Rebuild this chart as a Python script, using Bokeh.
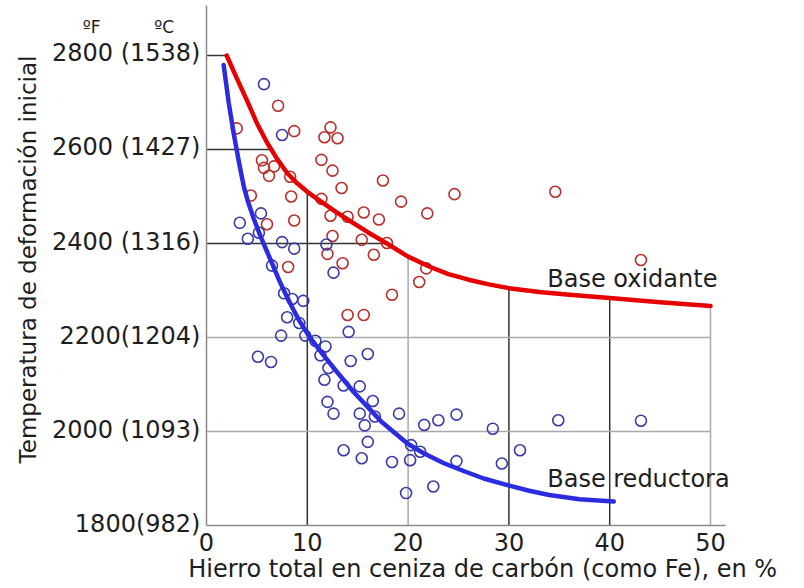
import numpy as np
from bokeh.plotting import figure
from bokeh.models import Range1d
from bokeh.core.properties import value
from bokeh.embed import file_html
from bokeh.resources import INLINE

# --- data ---------------------------------------------------------------
# measured points, oxidising atmosphere (iron %, deformation temperature ºF)
ox_fe = [7.1, 3.0, 8.7, 12.3, 11.7, 13.0, 5.5, 5.7, 6.7, 6.2, 8.3, 11.4, 12.5,
         13.4, 17.5, 4.4, 8.4, 11.4, 19.3, 24.6, 34.6, 21.9, 14.0, 15.6, 17.1,
         12.3, 8.7, 6.0, 12.5, 15.4, 17.9, 12.0, 13.5, 16.6, 21.8, 21.1, 18.4,
         14.0, 15.6, 8.1, 43.1]
ox_temp = [2693, 2645, 2639, 2647, 2626, 2624, 2577, 2561, 2564, 2544, 2542,
           2578, 2555, 2518, 2534, 2502, 2500, 2495, 2489, 2505, 2510, 2464,
           2457, 2466, 2451, 2459, 2449, 2441, 2416, 2408, 2401, 2378, 2358,
           2376, 2347, 2318, 2291, 2248, 2248, 2350, 2365]

# measured points, reducing atmosphere
red_fe = [5.7, 7.5, 5.4, 3.3, 4.1, 5.2, 7.5, 8.7, 11.9, 6.5, 12.6, 7.7, 8.5,
          9.6, 8.0, 9.2, 7.4, 9.8, 10.8, 11.8, 11.3, 5.1, 6.4, 14.1, 16.0,
          14.3, 12.1, 11.7, 13.6, 15.2, 16.5, 12.0, 12.6, 15.2, 16.7, 19.1,
          15.7, 21.6, 23.0, 24.8, 28.4, 16.0, 13.6, 15.4, 18.4, 20.3, 21.2,
          20.2, 24.8, 29.3, 31.1, 22.5, 19.8, 34.9, 43.1]
red_temp = [2739, 2631, 2464, 2444, 2410, 2423, 2403, 2389, 2398, 2353, 2338,
            2294, 2282, 2278, 2243, 2231, 2204, 2204, 2193, 2181, 2162, 2159,
            2148, 2212, 2165, 2150, 2135, 2110, 2098, 2096, 2065, 2063, 2038,
            2038, 2032, 2038, 2013, 2014, 2024, 2036, 2006, 1978, 1960, 1943,
            1935, 1971, 1957, 1939, 1937, 1932, 1960, 1883, 1869, 2024, 2023]

# trend curve, oxidising atmosphere
ox_curve_fe = [2.0, 3.0, 4.0, 5.0, 6.0, 7.0, 8.0, 9.0, 10.0, 11.3, 12.8, 14.3,
               16.0, 17.9, 20.0, 22.2, 24.0, 26.0, 28.0, 30.0, 33.0, 36.0,
               40.0, 45.0, 50.0]
ox_curve_temp = [2800, 2752, 2705, 2656, 2615, 2580, 2550, 2528, 2510, 2490,
                 2468, 2447, 2424, 2400, 2372, 2350, 2335, 2323, 2313, 2305,
                 2297, 2291, 2284, 2275, 2267]

# trend curve, reducing atmosphere
red_curve_fe = [1.7, 2.2, 2.7, 3.2, 3.7, 4.1, 4.7, 5.4, 6.0, 6.5, 7.2, 7.9,
                8.6, 9.2, 10.2, 11.5, 12.7, 14.6, 17.3, 19.9, 21.6, 23.5, 25.5,
                27.5, 29.85, 32.0, 34.0, 37.0, 40.4]
red_curve_temp = [2780, 2700, 2634, 2575, 2521, 2490, 2452, 2413, 2383, 2358,
                  2322, 2290, 2260, 2236, 2202, 2165, 2133, 2084, 2022, 1975,
                  1953, 1933, 1916, 1900, 1886, 1874, 1865, 1856, 1851]

# axis ticks and their labels
temp_ticks = [1800, 2000, 2200, 2400, 2600, 2800]
temp_labels = ["1800(982)", "2000 (1093)", "2200(1204)",
               "2400 (1316)", "2600 (1427)", "2800 (1538)"]
fe_ticks = [0, 10, 20, 30, 40, 50]
fe_labels = ["0", "10", "20", "30", "40", "50"]

# reference lines that stop at the oxidising curve
vline_fe = [10, 20, 30, 40, 50]
vline_colors = ["#333333", "#aaaaaa", "#333333", "#333333", "#aaaaaa"]
hline_temp = [2800, 2600, 2400, 2200, 2000]
hline_colors = ["#333333", "#333333", "#333333", "#aaaaaa", "#aaaaaa"]

FONT = "DejaVu Sans"
TEXT = "#1e1e1e"
RED = "#e60000"
BLUE = "#2b2be0"

# plotting area: 10.08 px per % Fe, 0.47 px per ºF; the frame spans the whole
# page so that scale labels and titles share the same coordinates
X0, X1 = 0, 51.5          # extent of the drawn iron axis
Y0, Y1 = 1800, 2906.4     # extent of the drawn temperature axis

p = figure(width=804, height=588, output_backend="svg", toolbar_location=None,
           x_range=Range1d(-20.437, 59.325), y_range=Range1d(1665.96, 2917.02),
           x_axis_location=None, y_axis_location=None,
           min_border=0)
p.outline_line_color = None
p.background_fill_color = "white"
p.border_fill_color = "white"
p.xgrid.visible = False
p.ygrid.visible = False

# reference lines bounded by the oxidising curve
vtop = np.interp(vline_fe, ox_curve_fe, ox_curve_temp)
p.segment(x0=vline_fe, y0=[Y0] * len(vline_fe), x1=vline_fe, y1=vtop,
          line_color=vline_colors, line_width=1.5)
hend = np.interp(hline_temp, ox_curve_temp[::-1], ox_curve_fe[::-1])
p.segment(x0=[X0] * len(hline_temp), y0=hline_temp, x1=hend, y1=hline_temp,
          line_color=hline_colors, line_width=1.5)

# axis lines
p.segment(x0=[X0, X0], y0=[Y0, Y0], x1=[X0, X1], y1=[Y1, Y0],
          line_color="#8a8a8a", line_width=1.5)

# scale labels
p.text(x=[-0.6] * len(temp_ticks), y=temp_ticks, text=temp_labels,
       text_font=value(FONT), text_font_size="24px", text_color=TEXT,
       text_align="right", text_baseline="middle", y_offset=-2)
p.text(x=fe_ticks, y=[Y0] * len(fe_ticks), text=fe_labels,
       text_font=value(FONT), text_font_size="24px", text_color=TEXT,
       text_align="center", text_baseline="middle", y_offset=16)

# unit headers above the temperature scale
p.text(x=[-11.4, -4.2], y=[2861, 2861], text=["ºF", "ºC"],
       text_font=value(FONT), text_font_size="17px", text_color=TEXT,
       text_align="center", text_baseline="middle")

# axis titles
p.text(x=[27.4], y=[1706.4], text=["Hierro total en ceniza de carbón (como Fe), en %"],
       text_font=value(FONT), text_font_size="24px", text_color=TEXT,
       text_align="center", text_baseline="middle")
p.text(x=[-17.7], y=[2366], text=["Temperatura de deformación inicial"],
       angle=np.pi / 2, text_font=value(FONT), text_font_size="23px",
       text_color=TEXT, text_align="center", text_baseline="middle")

# measured points
p.scatter(ox_fe, ox_temp, marker="circle", size=11, fill_color=None,
          line_color="#b8302c", line_width=1.6)
p.scatter(red_fe, red_temp, marker="circle", size=11, fill_color=None,
          line_color="#3a3aa8", line_width=1.6)

# trend curves
p.line(ox_curve_fe, ox_curve_temp, line_color=RED, line_width=4.5,
       line_join="round", line_cap="round")
p.line(red_curve_fe, red_curve_temp, line_color=BLUE, line_width=4.5,
       line_join="round", line_cap="round")

# curve names
p.text(x=[33.8, 33.8], y=[2325, 1900], text=["Base oxidante", "Base reductora"],
       text_font=value(FONT), text_font_size="24px", text_color=TEXT,
       text_baseline="middle", text_align="left")

open("out.html", "w").write(file_html(p, INLINE))
